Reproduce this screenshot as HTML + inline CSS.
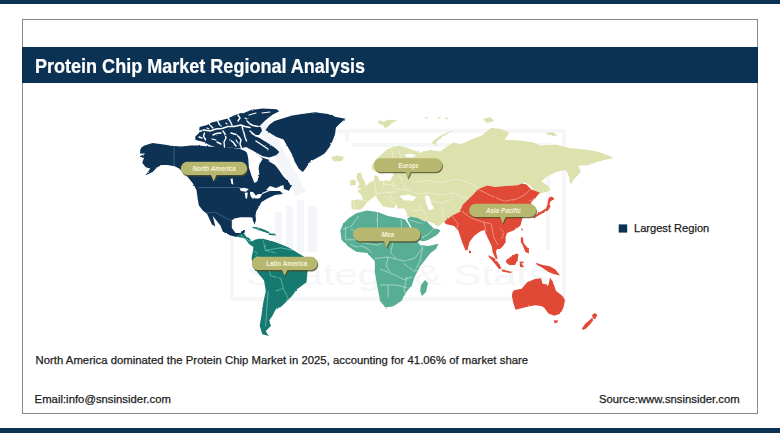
<!DOCTYPE html>
<html><head><meta charset="utf-8">
<style>
html,body{margin:0;padding:0;background:#fff;}
body{width:780px;height:433px;position:relative;overflow:hidden;font-family:"Liberation Sans",sans-serif;}
.topbar{position:absolute;left:0;top:0;width:780px;height:4px;background:#0c3253;}
.botbar{position:absolute;left:0;top:428.3px;width:780px;height:5px;background:#0c3253;}
.card{position:absolute;left:22px;top:19px;width:734px;height:393px;border:1px solid #8a8a8a;background:#fff;}
.title{position:absolute;left:22px;top:47px;width:736px;height:36px;background:#0c3253;}
.title span{position:absolute;left:13px;top:9.9px;font-size:18.05px;font-weight:bold;color:#fff;-webkit-text-stroke:0.2px #fff;white-space:nowrap;line-height:20px;transform:scaleY(1.08);transform-origin:0 16.3px;}
.txt{position:absolute;white-space:nowrap;color:#1c1c1c;font-size:11.3px;line-height:13px;-webkit-text-stroke:0.25px #1c1c1c;}
svg{position:absolute;left:0;top:0;}
</style></head><body>
<div class="topbar"></div>
<div class="card"></div>
<div class="title"><span>Protein Chip Market Regional Analysis</span></div>
<svg width="780" height="433" viewBox="0 0 780 433">
<defs><filter id="blur" x="-10%" y="-30%" width="120%" height="160%"><feGaussianBlur stdDeviation="0.6"/></filter><filter id="rough" x="-5%" y="-5%" width="110%" height="110%"><feTurbulence type="fractalNoise" baseFrequency="0.4" numOctaves="2" seed="3" result="n"/><feDisplacementMap in="SourceGraphic" in2="n" scale="1.8" xChannelSelector="R" yChannelSelector="G"/></filter></defs>
<g fill="none" stroke="#f5f6f8" stroke-width="4">
<path d="M232,222 V299 H564 V131 H337"/>
<path d="M347,131 V142 M352,145 H548 V250"/>
</g>
<path d="M263,124 L301,194" stroke="#f4f5f8" stroke-width="11" fill="none"/>
<g fill="#f4f5f8">
<rect x="275" y="212" width="7" height="40"/><rect x="286" y="206" width="7" height="46"/><rect x="297" y="200" width="7" height="52"/><rect x="308" y="206" width="9" height="46"/>
</g>
<text x="246" y="285" font-family="Liberation Sans" font-size="30" fill="#f5f6f8" textLength="303" lengthAdjust="spacingAndGlyphs">Strategy &amp; Stats</text>

<g filter="url(#rough)">
<path d="M140.5,148.3 L144.5,145.4 L152.6,143.1 L161.9,144.2 L173.4,146.0 L181.5,146.5 L190.7,145.4 L198.5,145.5 L208.3,146.5 L219.1,147.0 L226.0,147.0 L233.0,148.0 L240.0,149.0 L245.0,151.0 L248.0,154.0 L252.0,154.0 L258.0,155.0 L262.0,158.0 L266.0,160.0 L270.0,162.0 L275.0,165.0 L279.0,170.0 L283.2,176.2 L287.3,180.4 L290.0,184.0 L283.2,185.0 L276.0,188.0 L270.0,186.0 L266.0,190.0 L272.0,191.0 L280.0,191.0 L283.0,194.0 L274.8,194.9 L266.5,199.1 L261.3,202.2 L259.3,206.3 L256.2,211.5 L255.5,215.5 L256.0,220.0 L254.6,224.5 L253.2,221.5 L252.3,217.5 L249.6,217.2 L240.7,217.2 L234.4,218.5 L231.8,220.4 L231.8,228.0 L235.6,233.1 L240.7,233.1 L242.0,230.6 L245.2,229.9 L244.5,233.1 L241.0,235.0 L238.2,235.5 L236.9,236.9 L230.6,235.6 L222.9,231.8 L220.4,225.5 L212.8,216.0 L215.3,226.5 L212.0,224.5 L207.1,214.0 L202.6,210.2 L198.8,205.2 L197.5,197.5 L196.5,190.0 L193.0,183.5 L187.3,176.6 L182.7,172.0 L179.2,168.5 L174.6,166.2 L167.6,165.0 L161.9,165.0 L157.2,167.3 L152.6,172.0 L145.1,175.4 L148.0,172.0 L150.3,168.5 L145.7,167.3 L142.2,162.7 L144.0,158.1 L139.4,156.4 L145.7,153.5 L139.9,153.5Z" fill="#0c3253" />
<path d="M265.5,130.0 L269.6,124.4 L274.5,121.0 L280.7,118.9 L292.3,115.5 L302.0,113.9 L314.9,112.3 L327.9,113.9 L335.9,117.1 L345.6,118.7 L340.8,122.8 L335.9,127.6 L335.1,134.1 L332.7,140.5 L329.5,147.0 L324.6,153.5 L316.5,158.3 L310.1,161.5 L306.0,168.0 L302.8,172.0 L298.8,168.8 L294.7,161.5 L291.5,153.5 L287.6,146.6 L283.5,139.6 L276.5,136.9 L270.0,133.0Z" fill="#0c3253" />
<path d="M195.3,136.5 L199.0,133.0 L199.6,127.0 L207.0,125.0 L211.5,122.5 L222.0,120.0 L229.0,118.0 L234.0,115.5 L241.0,113.0 L243.3,113.3 L251.6,109.8 L262.7,108.5 L276.5,109.2 L279.3,111.2 L272.4,114.7 L265.5,120.2 L259.9,125.8 L253.0,126.5 L250.0,130.0 L252.0,134.5 L259.9,138.2 L266.9,142.4 L275.2,147.9 L279.3,152.1 L276.5,154.9 L269.6,157.6 L262.7,156.2 L253.0,150.7 L246.0,147.0 L240.0,148.4 L234.0,148.0 L225.0,147.3 L216.0,147.3 L209.4,145.1 L204.0,142.0 L198.5,140.8 L195.3,139.8Z" fill="#0c3253" />
<path d="M249.0,125.5 L256.0,125.0 L261.0,127.5 L262.0,131.0 L259.0,135.0 L254.0,135.0 L250.0,131.0Z" fill="#0c3253" />
<path d="M255.8,158.0 L262.0,157.6 L269.6,160.0 L266.0,163.2 L258.0,162.5Z" fill="#0c3253" />
<path d="M283.2,183.5 L288.0,182.5 L291.5,186.0 L289.0,190.8 L284.0,189.0Z" fill="#0c3253" />
<path d="M199,131.5 L204,130 L210,131 L216,129 L222,128.5 L228,126.5 L234,126.5 L241,125 L245,126.5 L250,127.5 M204.5,133 L203.5,136 L205.5,140 M223,131 L225,134 L226,138 L224,142 L224.5,147 M231,133 L236,134.5 L239,137 L241,140 L240,144 L241.5,148 M242,126 L243,130 L244,133 L245,137 L246.5,141 M218,121.5 L219,124 L221,126 M228,118 L230,121 L232,125 M247,121 L250,124 L253,125.5 L258,126.5 M250,131 L253,133.5 L256,136 M209,123.5 L211,126 L213,128 M213,135 L216,133.5 L221,133 M230,140 L233,142 L236,146 M217,142 L221,144 M199,137 L202,138 M256,141 L262,145 L268,149 M238,115 L240,118 L238,121" stroke="#fff" stroke-width="1.4" fill="none" stroke-linecap="round" stroke-linejoin="round"/>
<path d="M236,140 L238,143 M212,139 L216,140 M262,113 L270,112 M249,115 L256,113 M207,128 L209,129 M226,123 L227,124 M245,118 L247,119" stroke="#fff" stroke-width="1.1" fill="none" stroke-linecap="round"/>
<path d="M247.0,153.0 L252.0,151.5 L257.0,154.0 L262.7,159.0 L259.5,164.0 L258.6,168.0 L259.3,174.7 L257.2,181.6 L254.4,183.0 L251.6,176.0 L248.9,167.7 L248.2,158.0Z" fill="#fff" />
<path d="M239.5,188.5 L244.0,187.7 L248.9,189.0 L246.0,191.8 L241.0,191.0Z" fill="#fff" />
<path d="M244.7,192.8 L247.8,192.5 L247.0,199.0 L245.5,198.0Z" fill="#fff" />
<path d="M249.9,191.8 L253.0,192.0 L256.2,196.0 L253.0,199.1 L250.5,196.0Z" fill="#fff" />
<path d="M254.0,197.0 L258.0,194.0 L262.4,193.9 L260.0,198.0 L256.0,199.0Z" fill="#fff" />
<path d="M230.5,178.5 L232.5,178.3 L233.3,184.5 L231.5,184.0Z" fill="#fff" />
<path d="M262,193.5 L268,191 L275,189" stroke="#fff" stroke-width="1.2" fill="none"/>
<path d="M174,146.5 V166" stroke="#4a6a88" stroke-width="0.8" fill="none"/>
<path d="M198.5,187.5 H241" stroke="#5a7896" stroke-width="0.6" fill="none"/>
<path d="M238.2,234.4 L242.0,233.5 L244.5,234.0 L246.0,236.5 L249.0,238.0 L252.0,241.5 L254.7,239.8 L261.0,238.3 L273.5,241.4 L281.4,244.5 L289.2,247.7 L297.0,252.4 L303.0,256.0 L309.0,261.0 L309.5,266.0 L307.4,271.9 L306.5,282.3 L297.0,289.3 L291.8,296.2 L286.6,301.4 L281.4,306.6 L275.3,310.1 L272.7,315.3 L269.3,320.5 L271.0,325.7 L265.8,330.9 L267.5,334.3 L269.3,336.1 L262.3,334.3 L259.7,325.7 L261.5,315.3 L263.2,303.1 L265.8,291.0 L264.1,280.6 L257.1,271.9 L252.5,265.0 L251.6,258.0 L253.0,250.4 L253.4,247.1 L249.0,244.0 L245.8,239.4 L241.0,237.5 L237.5,237.0Z" fill="#157a70" />
<path d="M252.6,226.8 L258.0,227.6 L264.0,229.6 L270.0,232.2 L268.0,233.2 L262.0,231.2 L256.0,229.0 L252.6,228.0Z" fill="#157a70" />
<path d="M268.5,233.3 L275.0,233.8 L276.0,235.5 L269.0,235.0Z" fill="#157a70" />
<path d="M352.7,209.6 L351.0,205.0 L351.5,200.4 L357.0,199.5 L363.1,199.8 L361.4,195.2 L357.3,190.6 L362.0,188.5 L366.0,186.0 L370.0,181.9 L374.2,180.5 L374.2,175.6 L378.0,176.0 L379.0,180.5 L383.0,181.0 L390.5,180.5 L392.0,177.0 L394.0,174.0 L389.0,171.0 L386.0,168.0 L385.0,173.0 L380.0,174.0 L376.0,172.0 L372.0,169.5 L371.7,165.4 L376.0,159.0 L381.8,154.0 L386.9,149.5 L393.3,147.0 L399.6,145.7 L406.0,147.6 L413.6,150.2 L421.2,152.7 L423.7,151.4 L430.0,150.0 L440.0,151.5 L453.8,142.3 L460.8,144.6 L470.0,140.0 L481.5,135.4 L491.0,128.0 L501.5,129.0 L509.2,133.1 L504.6,140.0 L516.2,140.0 L532.3,142.3 L541.5,145.8 L555.4,144.6 L569.2,148.1 L583.1,149.2 L596.9,151.5 L610.8,156.2 L613.1,158.5 L606.2,159.6 L596.9,161.9 L587.7,165.4 L578.5,165.4 L580.8,172.3 L573.9,179.2 L570.4,185.0 L569.2,176.9 L565.8,170.0 L555.4,172.3 L546.2,176.9 L541.5,181.5 L548.5,186.2 L550.5,190.4 L539.2,193.9 L534.9,190.4 L529.7,185.2 L524.5,182.6 L517.5,185.2 L505.4,186.1 L495.0,186.9 L487.3,185.6 L479.0,188.7 L472.7,194.9 L468.6,199.1 L462.3,205.3 L460.3,211.6 L452.0,215.7 L444.3,221.6 L438.5,226.2 L431.6,222.7 L427.0,221.0 L423.5,221.0 L417.7,218.1 L410.8,216.4 L407.5,217.0 L406.0,211.0 L404.0,208.5 L397.7,208.5 L396.5,204.5 L394.0,208.0 L390.0,207.5 L386.2,207.3 L385.0,206.2 L383.0,206.5 L378.0,200.0 L375.8,195.8 L372.3,198.1 L367.1,202.1 L364.2,206.2 L360.8,209.6Z" fill="#dce1ad" />
<path d="M357.5,173.0 L361.0,172.5 L362.0,177.0 L365.0,182.0 L366.0,187.0 L362.0,188.5 L357.5,188.0 L359.5,184.0 L357.0,180.0 L356.5,176.0Z" fill="#dce1ad" />
<path d="M350.5,180.0 L355.5,179.5 L355.8,185.0 L350.1,185.7Z" fill="#dce1ad" />
<path d="M331.0,157.0 L337.0,155.5 L344.0,157.0 L342.0,161.0 L334.0,161.5Z" fill="#dce1ad" />
<path d="M377.5,121.0 L381.0,120.5 L384.0,122.0 L387.0,120.0 L392.0,119.8 L397.5,120.5 L392.0,123.0 L389.0,126.0 L385.0,128.5 L383.0,125.0 L379.0,124.0Z" fill="#dce1ad" />
<path d="M424.0,117.5 L428.0,117.0 L427.0,119.0Z" fill="#dce1ad" />
<path d="M437.0,117.5 L441.0,117.0 L440.0,119.2Z" fill="#dce1ad" />
<path d="M444.0,117.8 L449.0,117.5 L447.0,119.5Z" fill="#dce1ad" />
<path d="M453.3,130.0 L447.0,132.5 L440.0,136.0 L434.0,140.5 L431.5,143.0 L436.5,145.5 L436.0,142.5 L441.0,137.5 L448.0,133.5Z" fill="#dce1ad" />
<path d="M483.0,119.0 L490.0,117.0 L494.0,121.0 L487.0,123.0Z" fill="#dce1ad" />
<path d="M546.0,133.0 L553.0,132.0 L557.7,135.4 L550.0,136.0Z" fill="#dce1ad" />
<path d="M399.2,196.0 L408.0,194.5 L416.6,197.0 L413.0,200.8 L404.0,200.5Z" fill="#fff" />
<path d="M424.6,195.0 L429.0,196.0 L431.0,202.0 L433.9,209.0 L429.0,210.0 L426.0,203.0Z" fill="#fff" />
<path d="M404.7,154.5 L410.0,153.5 L416.1,155.0 L412.0,157.8 L406.0,157.0Z" fill="#fff" />
<path d="M380.0,178.5 L384.0,176.0 L388.0,172.0 L391.0,171.5 L390.0,177.0 L386.0,179.5Z" fill="#fff" />
<path d="M340.3,230.5 L343.0,223.9 L348.3,218.6 L356.2,213.3 L366.9,210.6 L377.5,211.9 L388.1,215.9 L401.4,218.6 L406.7,219.9 L410.0,226.0 L414.0,234.0 L417.0,241.0 L420.0,245.0 L428.0,246.0 L438.5,243.8 L436.0,249.0 L430.6,253.1 L420.0,266.4 L414.6,277.0 L412.0,284.9 L406.7,291.6 L401.4,300.9 L393.4,306.2 L385.4,307.5 L380.1,300.9 L377.5,287.6 L374.8,271.7 L374.8,261.1 L366.9,253.1 L356.2,251.8 L348.3,246.5 L341.6,239.8Z" fill="#58ae94" />
<path d="M407.5,218.5 L410.8,216.4 L417.7,218.1 L423.5,221.0 L427.0,221.6 L429.0,224.0 L433.9,228.5 L438.0,229.0 L440.8,230.8 L436.2,235.4 L428.1,240.0 L420.0,242.3 L416.6,241.2 L412.0,233.0 L408.0,225.0Z" fill="#58ae94" />
<path d="M425.0,280.0 L428.0,283.0 L426.0,292.0 L422.0,296.0 L420.0,292.0 L421.0,285.0Z" fill="#58ae94" />
<path d="M405.5,218.5 L409,224 L413,232 L417.5,240.5 L424,242.5 L432,243.2 L438,243" stroke="#fff" stroke-width="1.4" fill="none" stroke-linejoin="round"/>
<path d="M444.3,221.6 L452.0,215.7 L460.3,211.6 L462.3,205.3 L468.6,199.1 L472.7,194.9 L479.0,188.7 L487.3,185.6 L495.0,186.9 L505.4,186.1 L517.5,185.2 L521.9,183.5 L526.5,184.6 L531.2,189.2 L536.9,191.5 L539.8,192.7 L536.9,196.2 L533.5,199.6 L531.2,203.1 L532.0,208.0 L531.0,213.0 L528.0,211.0 L526.0,207.0 L523.0,207.0 L522.7,218.1 L522.0,219.5 L520.5,225.5 L514.5,230.0 L507.0,233.0 L505.5,237.5 L505.8,241.9 L503.0,246.0 L500.0,248.9 L497.0,249.0 L496.0,252.0 L497.7,259.2 L495.5,258.5 L492.5,252.0 L491.9,246.5 L489.0,240.5 L486.0,234.5 L484.5,230.0 L480.0,231.5 L474.0,236.0 L469.5,242.0 L467.5,250.0 L465.5,250.5 L462.3,242.7 L458.2,230.3 L454.0,226.1 L445.7,224.0Z" fill="#e04935" />
<path d="M549.0,197.5 L552.0,196.5 L554.5,199.0 L551.0,201.0 L549.5,203.5 L550.5,206.5 L548.0,210.5 L543.0,213.0 L538.5,215.5 L536.0,217.0 L534.5,218.5 L533.0,217.5 L536.0,214.5 L541.0,211.5 L546.0,208.5 L547.5,204.5 L548.0,200.0Z" fill="#e04935" />
<path d="M512.5,292.5 L514.0,290.3 L521.5,288.8 L527.5,282.0 L535.0,279.0 L541.0,278.3 L542.5,283.5 L548.5,285.0 L550.0,277.5 L553.0,282.0 L556.0,291.0 L562.0,295.5 L565.0,300.0 L563.5,307.5 L560.5,313.5 L554.5,315.8 L548.5,313.5 L544.0,307.5 L541.0,306.0 L535.0,305.3 L527.5,306.8 L515.5,309.8 L513.3,303.0 L511.8,295.5Z" fill="#e04935" />
<path d="M553.8,320.3 L558.3,320.5 L556.5,323.3 L554.5,323.0Z" fill="#e04935" />
<path d="M592.0,315.0 L595.0,313.0 L597.3,315.0 L595.0,319.5 L593.0,318.0Z" fill="#e04935" />
<path d="M582.0,328.5 L585.0,324.0 L589.0,320.5 L592.5,317.5 L593.0,320.5 L590.0,324.5 L586.0,328.5 L583.0,330.0Z" fill="#e04935" />
<path d="M488.5,255.2 L494.2,258.1 L500.0,265.0 L501.7,268.5 L498.9,268.8 L493.1,261.6 L488.8,257.0Z" fill="#e04935" />
<path d="M501.7,269.3 L508.1,270.9 L512.7,272.0 L510.0,273.0 L502.0,271.5Z" fill="#e04935" />
<path d="M505.8,260.4 L510.4,256.9 L516.2,253.5 L518.5,254.6 L517.3,260.4 L515.0,265.0 L509.2,265.0 L506.4,262.7Z" fill="#e04935" />
<path d="M519.6,261.6 L524.3,261.8 L522.0,264.0 L524.0,267.3 L520.0,267.0Z" fill="#e04935" />
<path d="M535.8,262.7 L542.7,265.0 L549.7,266.2 L555.4,269.6 L560.0,275.4 L554.3,274.3 L548.5,272.0 L541.6,267.3 L537.0,265.0Z" fill="#e04935" />
<path d="M468.8,250.3 L471.0,251.0 L471.0,253.3 L469.0,253.0Z" fill="#e04935" />
<path d="M520.8,237.3 L523.0,237.5 L523.5,243.0 L526.0,246.0 L528.9,249.0 L528.9,253.5 L525.4,252.0 L523.0,246.0 L520.8,242.0Z" fill="#e04935" />
<path d="M521.5,227.5 L523.0,229.5 L521.5,231.0Z" fill="#e04935" />
<path d="M358.9,215.9 L350.9,226.5 L343.0,229.2 M350.9,229.2 L366.9,237.2 L380.1,234.5 M377.5,211.9 L377.5,234.5 M401.4,219.9 L401.4,237.2 M380.1,234.5 L393.4,239.8 L401.4,237.2 M401.4,237.2 L414.6,237.2 M345.6,226.5 L345.6,239.8 L356.2,239.8 M356.2,239.8 L361.5,242.5 L377.5,245.1 L382.8,242.5 M350.0,244.0 L356.0,247.0 L362.0,246.0 L368.0,249.0 L372.0,253.0 M393.4,239.8 L390.7,253.1 L396.0,258.4 M374.8,258.4 L388.1,257.1 L404.0,261.1 L414.6,258.4 M414.6,237.2 L422.6,247.8 L414.6,258.4 M422.6,247.8 L420.0,261.1 L414.6,271.7 M380.1,269.0 L393.4,274.3 L404.0,279.6 L412.0,277.0 M404.0,263.7 L414.6,271.7 M388.1,257.1 L386.0,266.0 L390.0,272.0 M380.1,285.0 L396.0,285.0 L406.7,287.6 M388.1,285.0 L388.1,298.2 M406.7,277.0 L404.0,290.3 L406.7,295.6 M417.3,239.8 L427.9,234.5 L435.9,226.5 M409.3,219.9 L422.6,223.9" stroke="#d8f2e6" stroke-width="0.6" fill="none" opacity="0.9" stroke-linejoin="round"/>
<path d="M379.9,159.0 L383.3,174.7 M392.0,150.4 L393.7,166.0 L392.0,172.9 M398.9,150.4 L400.7,157.3 L398.9,174.7 M398.9,174.7 L402.4,181.6 L405.9,188.5 L412.8,192.0 L418.0,194.0 M383.3,180.5 L383.3,188.5 M392.0,180.5 L393.7,188.5 M374.7,182.0 L376.4,195.5 M393.7,188.5 L409.3,190.3 M376.4,193.7 L392.0,192.0 L398.0,192.0 M384.0,196.0 L390.0,200.0 L394.0,204.0 M390.0,192.0 L391.0,198.0 L396.0,199.0 M357.3,199.8 L365.0,200.5 L371.2,202.4 M353.9,200.7 L354.7,210.0 M383.3,184.0 L392.0,185.0 L398.0,186.0 M412.5,182.5 L427.0,180.4 L441.6,182.5 L456.1,179.4 L468.6,182.5 L479.0,188.7 M418.0,194.0 L427.0,192.9 L441.6,195.0 L454.0,192.9 L468.6,199.1 M431.2,201.2 L441.6,203.2 L452.0,199.1 M441.6,207.4 L443.6,217.8 M418.0,204.0 L420.8,207.4 L427.0,215.7 L425.0,222.0 M410.0,210.0 L416.0,211.0 L421.0,209.0" stroke="#f7f7ea" stroke-width="0.6" fill="none" opacity="0.95" stroke-linejoin="round"/>
<path d="M479.0,189.7 L489.4,194.9 L503.9,201.2 L516.4,199.1 L524.7,194.9 L530.9,188.7 M462.3,211.6 L470.6,217.8 L483.1,222.0 L491.4,224.0 M452.0,215.7 L458.2,224.0 L456.1,230.3 M491.4,224.0 L493.5,236.5 L497.7,244.8 M499.7,228.2 L503.9,232.3 L501.8,238.6 M528.8,201.2 L535.1,199.1 M484.0,222.0 L486.0,232.0" stroke="#f6c3b8" stroke-width="0.6" fill="none" opacity="0.95" stroke-linejoin="round"/>
<path d="M263.0,240.2 L265.5,250.4 L275.7,252.9 M265.5,250.4 L280.8,247.8 L293.5,250.4 M255.4,255.5 L268.1,263.1 L270.6,275.8 M270.6,275.8 L280.8,278.3 L283.3,288.5 L275.7,291.0 M268.1,291.0 L266.8,308.8 L265.5,326.5 M283.3,288.5 L288.4,298.6 L285.8,301.1 M254.0,251.0 L258.0,254.0 M241.0,234.5 L243.0,238.0 L247.0,239.0 L250.0,242.0" stroke="#8fd8cc" stroke-width="0.6" fill="none" opacity="0.95" stroke-linejoin="round"/>
<path d="M206.0,213.0 L215.0,212.0 L222.0,216.0 L228.0,219.0 L232.0,220.5" stroke="#5a7896" stroke-width="0.6" fill="none" opacity="1" stroke-linejoin="round"/>
</g>
<g>
<path d="M186.7,161.7 H241.3 A6.7,6.7 0 0 1 241.3,175.0 H216.5 L213.5,181.2 L211.0,175.0 H186.7 A6.7,6.7 0 0 1 186.7,161.7Z" fill="#4e4d2a" opacity="0.8" transform="translate(0.8,1.4)" filter="url(#blur)"/>
<path d="M186.7,161.7 H241.3 A6.7,6.7 0 0 1 241.3,175.0 H216.5 L213.5,181.2 L211.0,175.0 H186.7 A6.7,6.7 0 0 1 186.7,161.7Z" fill="#b8b76f"/>
<text x="192.4" y="170.8" textLength="43.3" lengthAdjust="spacingAndGlyphs" font-family="Liberation Sans" font-weight="bold" font-style="italic" font-size="7" fill="#f5f4d8">North America</text>
</g>
<g>
<path d="M257.6,256.7 H311.6 A6.7,6.7 0 0 1 311.6,270.0 H287.5 L284.5,275.6 L282.0,270.0 H257.6 A6.7,6.7 0 0 1 257.6,256.7Z" fill="#4e4d2a" opacity="0.8" transform="translate(0.8,1.4)" filter="url(#blur)"/>
<path d="M257.6,256.7 H311.6 A6.7,6.7 0 0 1 311.6,270.0 H287.5 L284.5,275.6 L282.0,270.0 H257.6 A6.7,6.7 0 0 1 257.6,256.7Z" fill="#b8b76f"/>
<text x="266.3" y="265.9" textLength="40.9" lengthAdjust="spacingAndGlyphs" font-family="Liberation Sans" font-weight="bold" font-size="7" fill="#f5f4d8">Latin America</text>
</g>
<g>
<path d="M380.6,158.3 H435.4 A6.8,6.8 0 0 1 435.4,171.9 H410.9 L407.9,178.3 L405.4,171.9 H380.6 A6.8,6.8 0 0 1 380.6,158.3Z" fill="#4e4d2a" opacity="0.8" transform="translate(0.8,1.4)" filter="url(#blur)"/>
<path d="M380.6,158.3 H435.4 A6.8,6.8 0 0 1 435.4,171.9 H410.9 L407.9,178.3 L405.4,171.9 H380.6 A6.8,6.8 0 0 1 380.6,158.3Z" fill="#b8b76f"/>
<text x="398.6" y="167.6" textLength="20.3" lengthAdjust="spacingAndGlyphs" font-family="Liberation Sans" font-weight="bold" font-size="7" fill="#f5f4d8">Europe</text>
</g>
<g>
<path d="M360.0,227.5 H413.7 A6.9,6.9 0 0 1 413.7,241.3 H389.5 L386.5,247.7 L384.0,241.3 H360.0 A6.9,6.9 0 0 1 360.0,227.5Z" fill="#4e4d2a" opacity="0.8" transform="translate(0.8,1.4)" filter="url(#blur)"/>
<path d="M360.0,227.5 H413.7 A6.9,6.9 0 0 1 413.7,241.3 H389.5 L386.5,247.7 L384.0,241.3 H360.0 A6.9,6.9 0 0 1 360.0,227.5Z" fill="#b8b76f"/>
<text x="381.5" y="236.9" textLength="12.7" lengthAdjust="spacingAndGlyphs" font-family="Liberation Sans" font-weight="bold" font-style="italic" font-size="7" fill="#f5f4d8">Mea</text>
</g>
<g>
<path d="M475.6,203.7 H529.6 A6.6,6.6 0 0 1 529.6,216.9 H505.7 L502.7,223.8 L500.2,216.9 H475.6 A6.6,6.6 0 0 1 475.6,203.7Z" fill="#4e4d2a" opacity="0.8" transform="translate(0.8,1.4)" filter="url(#blur)"/>
<path d="M475.6,203.7 H529.6 A6.6,6.6 0 0 1 529.6,216.9 H505.7 L502.7,223.8 L500.2,216.9 H475.6 A6.6,6.6 0 0 1 475.6,203.7Z" fill="#b8b76f"/>
<text x="486.1" y="212.8" textLength="35.0" lengthAdjust="spacingAndGlyphs" font-family="Liberation Sans" font-weight="bold" font-style="italic" font-size="7" fill="#f5f4d8">Asia Pacific</text>
</g>
<rect x="618.7" y="224.4" width="8.5" height="8.2" fill="#0c3253"/>
</svg>
<div class="txt" style="left:634px;top:222.2px;font-size:11.1px;">Largest Region</div>
<div class="txt" style="left:35.5px;top:353.6px;letter-spacing:0.03px;">North America dominated the Protein Chip Market in 2025, accounting for 41.06% of market share</div>
<div class="txt" style="left:34.6px;top:392.9px;letter-spacing:0.02px;">Email:info@snsinsider.com</div>
<div class="txt" style="left:599px;top:392.6px;letter-spacing:0px;">Source:www.snsinsider.com</div>
<div class="botbar"></div>
</body></html>
